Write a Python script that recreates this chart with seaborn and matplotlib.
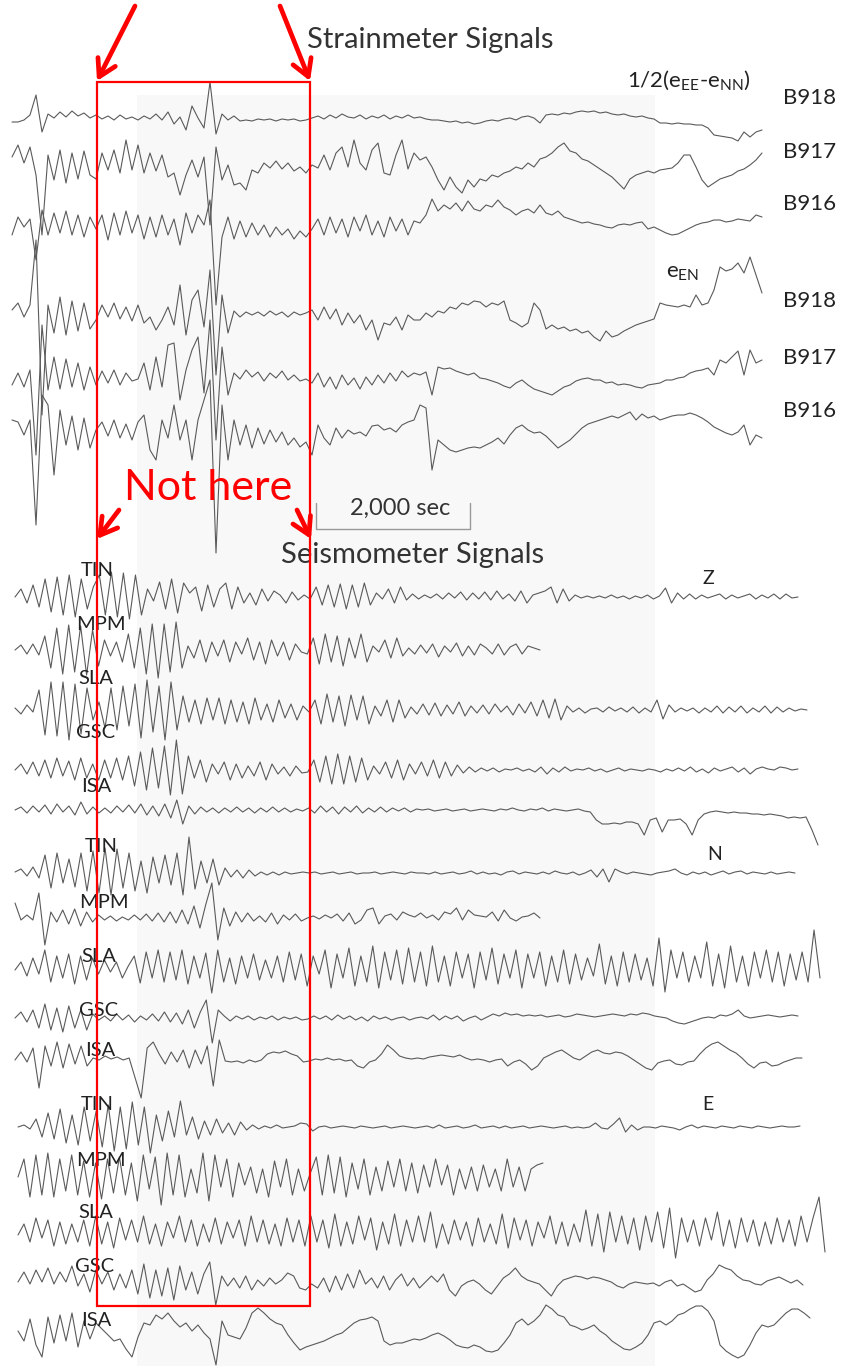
import numpy as np
import matplotlib
matplotlib.use("Agg")
import matplotlib.pyplot as plt
import seaborn as sns
from matplotlib.patches import Rectangle

sns.set_style("white")
plt.rcParams['font.family'] = ['Lato', 'DejaVu Sans']
plt.rcParams['mathtext.fontset'] = 'custom'
plt.rcParams['mathtext.rm'] = 'Lato'
plt.rcParams['mathtext.it'] = 'Lato'

# ---------------- DATA (trace amplitudes, positive = up) ----------------
# Strainmeter 1/2(eEE - eNN)
eenn_B918 = [-2,-2,0,5,25,-12,6,2,8,3,9,4,7,2,5,1,4,0,5,1,3,0,4,1,6,0,8,-4,3,-10,14,2,-8,38,-14,6,0,4,-1,0,-1,1,0,1,-1,1,0,1,-1,0,2,4,1,5,2,6,3,2,5,1,4,2,5,1,4,2,5,2,3,1,0,0,-1,-2,-1,-3,-2,-4,-3,-1,0,-1,1,2,0,3,4,2,-3,5,6,5,7,6,8,9,8,9,7,8,6,5,6,4,3,4,2,1,-3,-3,-4,-3,-4,-4,-5,-5,-8,-15,-16,-17,-18,-21,-12,-17,-12,-10]
eenn_B917 = [8,20,2,18,-10,-70,10,-15,15,-18,12,-14,14,-10,-14,12,-5,15,-8,25,-5,20,-8,12,-6,10,-12,-8,-30,-10,5,-12,8,-60,18,-15,0,-20,-18,-25,-5,-8,2,-3,4,-4,2,-6,-2,-8,0,-3,10,-5,12,18,-2,25,2,-5,15,22,-8,-10,10,25,-4,12,5,8,-2,-15,-25,-12,-22,-28,-15,-22,-14,-16,-10,-12,-8,-6,-2,-4,2,-2,6,8,12,18,22,14,12,6,4,0,-4,-8,-12,-18,-24,-14,-10,-8,-6,-8,-5,-4,-3,2,10,10,-2,-15,-22,-18,-14,-12,-10,-6,-4,0,5,12]
eenn_B916 = [-10,8,-2,6,-35,15,-10,12,-8,14,-10,10,-12,8,-4,10,-15,12,-10,14,-8,10,-14,8,-12,10,-10,6,-20,12,-8,10,0,25,-80,-12,8,-14,4,-12,2,-10,0,-12,-2,-10,-4,-14,-6,-12,-4,6,-10,8,-8,6,-12,8,-6,10,-10,4,-12,8,-6,6,-10,4,2,10,26,14,20,16,22,14,24,16,14,20,18,25,18,15,10,14,16,12,20,12,10,14,8,6,4,2,3,1,0,-2,-3,0,1,0,2,3,-4,-2,-5,-8,-10,-9,-6,-3,0,2,3,5,5,3,4,6,5,4,10,8]
# Strainmeter eEN
een_B918 = [5,12,-2,10,75,-100,10,-18,18,-20,14,-16,12,-14,-5,10,-2,12,-4,8,-6,10,-8,-2,-15,-5,8,-10,30,-20,15,25,-12,45,-60,20,-18,4,-2,3,0,3,-1,4,0,3,-2,3,0,2,5,-5,8,-4,6,-10,2,-8,0,-15,-5,-25,-8,-10,-2,-15,0,-5,-5,2,-2,4,2,8,6,12,10,14,13,8,12,10,14,-5,-8,-12,-8,12,5,-14,-10,-14,-12,-16,-14,-18,-16,-22,-26,-16,-22,-20,-16,-13,-10,-8,-6,-4,12,10,9,8,10,8,20,10,12,25,48,44,46,52,42,58,40,22]
een_B917 = [-10,2,-12,5,-80,50,-15,18,-14,16,-12,12,-15,8,-10,4,-8,5,-10,2,-6,-4,12,-15,18,-12,30,32,-25,5,25,38,-18,55,-65,28,-20,2,-4,5,-2,3,-6,2,-3,4,-5,0,-6,-4,-8,2,-12,-2,-14,0,-10,-3,-14,-2,-10,0,-8,2,-6,4,-2,2,0,3,-20,8,6,7,4,2,0,2,-3,-4,-6,-8,-11,-13,-8,-5,-10,-14,-16,-18,-20,-16,-12,-10,-6,-4,-3,-5,-5,-8,-7,-10,-9,-10,-12,-13,-10,-9,-8,-5,-5,-3,-2,2,4,5,7,0,15,12,18,24,0,25,12,15]
een_B916 = [10,8,-5,10,-95,35,25,-45,20,-15,14,-20,12,-18,0,8,-6,10,-8,6,-10,8,15,-20,-30,10,-8,25,-10,10,-30,10,30,50,-123,25,-30,10,-15,5,-18,2,-14,0,-12,-2,-15,-8,-17,-12,-25,5,-8,-15,2,-8,0,-4,-2,-6,4,5,0,2,-2,5,8,10,25,22,-40,-10,-15,-20,-22,-20,-18,-17,-18,-15,-12,-8,-14,-5,2,5,0,-3,-2,-6,-12,-18,-14,-10,-4,2,6,8,10,12,14,12,15,18,10,16,12,14,10,12,14,15,15,17,15,12,8,3,0,-3,-5,-2,5,-15,-5,-8]

# Seismometer Z
z_TIN = [0,8,-6,12,-10,18,-15,20,-18,22,-20,18,-12,10,22,-18,25,-20,24,-22,22,-18,8,-4,15,-12,18,-16,14,4,10,-14,12,-10,8,14,-12,10,-6,4,-8,8,-4,6,2,-6,5,-3,2,-2,10,-8,12,-10,13,-12,12,-10,14,-8,4,-2,8,-6,10,-3,3,-2,2,-1,3,-2,4,-1,5,-3,4,-2,5,-3,6,-2,3,-4,6,-6,2,4,6,10,-6,8,-4,2,-1,1,-1,1,-1,2,-1,1,-2,1,-1,2,-2,1,9,-6,4,-2,3,-2,2,-1,1,3,-2,2,-1,1,3,-2,2,-1,3,-2,3,-1,0]
z_MPM = [0,5,-4,6,-5,14,-18,22,-24,25,-22,24,-25,20,-16,10,-6,8,-12,16,-18,22,-24,26,-28,26,-22,28,-18,4,-8,10,-12,8,-6,10,-12,8,-4,12,-10,8,-14,10,-6,8,-10,6,-2,-4,12,-14,16,-12,14,-16,12,-8,16,-12,4,-2,10,-8,12,-6,2,-4,5,-3,6,-7,4,-2,7,-6,4,-5,6,2,-4,6,-5,3,6,-4,4,2,0]
z_SLA = [2,-4,5,-2,20,-25,28,-26,28,-30,26,-24,22,-10,8,-18,22,-20,24,-16,26,-28,30,-22,24,-30,28,-20,14,-12,10,-14,12,-10,12,-14,10,-12,8,-14,12,-10,6,-12,10,-8,6,-10,4,-2,10,-14,16,-12,14,-16,15,-10,14,-14,4,-6,10,-12,10,-8,3,-4,6,-5,7,-6,5,-4,8,-6,4,-3,5,-4,6,-2,4,-5,6,-3,8,-6,10,-8,11,-10,4,-2,2,-3,1,2,-2,3,-1,2,-2,3,-3,2,-2,10,-9,5,-2,2,-1,2,-3,2,-2,4,-3,3,-2,4,-3,2,-2,4,-3,3,-2,2,-1,1,0]
z_GSC = [0,6,-4,8,-6,10,-8,12,-6,9,-10,12,-8,6,-10,10,-8,12,-10,14,-16,18,-20,22,-18,24,-25,30,-24,14,-8,10,-12,6,-4,8,-10,6,-8,4,-6,8,-10,6,-4,3,-6,4,-3,-2,10,-12,14,-14,16,-14,14,-12,12,-10,4,-4,8,-8,10,-10,6,-4,8,-6,10,-8,8,-6,5,-3,3,-2,2,-1,2,-2,1,0,2,-1,1,-2,3,-4,2,-2,3,-1,1,0,2,-1,1,-2,0,2,-1,1,0,-1,1,0,-2,1,-1,2,-1,3,-2,1,-3,2,-1,1,3,-2,2,-4,1,3,1,0,3,2,0,1]
z_ISA = [0,3,-3,4,-2,5,-4,6,-2,4,-5,8,-4,3,-3,2,-3,4,-2,5,-3,6,-5,4,-6,6,-8,10,-14,4,-4,3,-2,2,-3,2,-2,3,-2,2,-3,2,-2,3,-2,2,-2,1,-1,2,-3,4,-2,3,-4,3,-2,4,-3,2,-2,3,-2,2,-1,2,-2,1,0,1,-1,0,1,-1,0,1,-1,0,1,0,-1,1,0,2,0,-1,1,0,2,-1,1,0,-1,0,1,-1,-2,-10,-14,-14,-13,-14,-12,-12,-14,-25,-10,-8,-22,-10,-10,-9,-14,-25,-10,-4,-2,-1,-2,-3,-2,-3,-3,-4,-4,-5,-4,-5,-6,-8,-7,-8,-7,-20,-35]

# Seismometer N
n_TIN = [1,4,-3,6,-5,18,-15,20,-10,14,-14,20,-18,22,-20,25,-22,24,-15,20,-18,12,-20,16,-10,18,-12,20,-22,36,-16,12,-10,14,-12,5,-4,3,-5,3,-3,1,-2,1,-2,1,-1,0,1,0,1,-1,0,1,-1,0,1,-1,0,0,1,-1,0,1,0,-1,1,0,0,-1,1,-1,0,1,-1,0,2,-1,1,-1,0,-2,1,2,-1,1,0,-1,1,-1,2,0,-1,1,-2,0,3,-4,4,-9,4,1,-1,1,0,-1,-2,0,1,2,4,0,-2,1,-1,1,-2,0,2,-1,1,2,-1,1,0,-1,1,-1,0,1,0]
n_MPM = [15,-2,3,-2,25,-27,6,-4,8,-6,9,-8,6,-4,3,-2,2,-3,1,-2,3,-2,4,-3,5,-4,6,-5,8,-6,12,-10,14,35,-22,10,-8,6,-4,5,-3,2,-4,5,-6,3,-2,4,-3,0,2,-1,3,0,4,-3,5,-6,-2,8,10,-6,2,4,-2,6,3,1,5,0,3,-2,6,4,10,-2,8,3,2,1,6,-3,8,0,-3,1,2,5,0]
n_SLA = [-2,6,-8,10,-6,18,-14,12,-10,14,-16,12,-12,10,-6,8,-4,6,-10,2,12,-15,16,-10,18,-14,16,-12,18,-16,12,-10,15,-25,18,-14,10,-16,12,-10,14,-12,8,-10,12,-14,16,-12,14,-18,12,-6,18,-20,14,-10,20,-18,12,-14,22,-20,16,-12,18,-16,20,-14,16,-18,22,-14,12,-18,16,-10,14,-20,16,-12,20,-16,14,-10,18,-20,14,-10,16,-18,12,-14,18,-16,14,-12,10,-8,24,-16,12,-18,16,-14,14,-12,10,-18,30,-24,18,-10,16,-14,12,-10,26,-18,14,-20,22,-14,12,-18,16,-10,18,-14,16,-18,14,-12,16,-14,38,-10]
n_GSC = [0,6,-4,8,-10,14,-12,10,-14,12,-10,8,-12,4,-2,2,-3,4,-2,3,-4,2,-2,4,-3,6,-4,5,-6,8,-10,6,18,-25,8,2,-3,2,-1,2,-2,1,-1,2,-2,1,-1,1,-2,-1,2,-1,2,-2,3,-1,2,-2,1,-3,2,-1,1,-2,0,1,-2,0,1,-1,3,-2,2,-1,2,-3,0,2,-2,1,4,2,5,3,4,2,3,2,3,1,2,3,1,2,4,3,2,1,2,3,4,3,2,4,3,5,4,2,1,0,-3,-5,-6,-4,-2,0,1,0,3,2,4,8,2,0,1,2,3,2,1,2,3,2]
n_ISA = [-2,6,-4,10,-30,12,-8,16,-10,14,-6,12,-8,0,-2,2,-1,1,-2,0,-20,-40,10,16,4,-6,6,-4,8,-10,8,-6,12,-28,18,-3,-4,-3,-5,-2,-4,-2,4,6,5,7,4,2,-4,-3,-1,-2,0,-2,-1,-3,-2,-8,-10,-4,-2,4,13,8,2,0,-1,0,-1,1,2,3,2,1,3,0,-2,-1,-2,-4,-2,-1,-8,-4,-2,-6,-12,-8,0,3,6,8,4,0,-2,2,6,8,5,4,6,5,2,-2,-6,-10,-12,-5,-3,-2,-6,-7,-4,-3,4,10,14,16,12,8,5,0,-6,-10,-5,-4,-8,-7,-4,-2,0,0]

# Seismometer E
e_TIN = [0,2,-2,8,-10,14,-12,18,-16,12,-18,20,-14,16,-20,22,-24,20,-22,25,-18,20,-26,12,-14,16,-10,26,-8,10,-12,6,-8,8,-6,4,-8,5,-3,2,-2,1,-1,2,-1,0,1,4,3,-4,0,1,-1,0,1,0,-1,1,0,-1,0,1,-1,0,1,0,-1,0,1,-1,2,-1,0,1,-1,0,2,-1,0,1,-1,1,-1,0,1,-1,0,1,0,-1,0,1,-1,0,-1,0,4,-1,-2,3,9,-5,2,-3,0,0,-1,1,0,-1,-3,0,2,-1,1,0,-1,1,0,-1,1,0,-1,1,0,-1,0,1,0,0,1]
e_MPM = [0,18,-20,22,-18,24,-20,18,-14,22,-18,16,-20,14,-22,18,-16,20,-18,14,-24,22,-12,20,-28,24,-18,22,-20,8,-16,24,-24,22,-10,18,-20,14,-8,10,-16,8,-20,16,-10,18,-18,8,-14,4,20,-18,22,-16,20,-20,14,-12,18,-18,10,-14,16,-10,18,-14,14,-16,12,-10,18,-8,12,-18,8,-12,10,-14,12,-10,8,-14,18,-10,10,-14,8,12,14]
e_SLA = [-3,8,-10,14,-6,12,-14,10,-12,8,-10,12,-14,16,-12,10,-16,14,-8,12,-10,16,-12,8,-14,10,-6,16,-10,12,-14,8,-10,14,-12,10,-6,12,-14,16,-10,12,-12,8,-14,14,-10,12,-14,16,-10,12,-16,18,-14,10,-12,16,-8,14,-18,10,-12,18,-14,12,-10,16,-10,20,-16,8,-12,12,-8,10,-14,14,-10,8,-12,18,-16,14,-8,12,-14,10,-6,16,-12,10,-14,8,-10,22,-14,18,-20,20,-10,16,-12,14,-18,16,-10,20,-16,24,-26,14,-10,12,-14,14,-8,20,-14,12,-16,14,-10,12,-14,10,-12,14,-10,12,-14,16,-10,14,35,-20]
e_GSC = [-2,8,-4,10,-2,12,-4,8,-2,14,-6,6,-12,10,-4,8,-10,6,-8,10,-14,16,-18,10,-16,12,-20,14,-10,8,-14,6,18,-25,4,-6,2,-8,4,-10,0,-6,2,-4,0,7,4,-8,-10,-4,-8,2,-12,4,-10,6,-8,10,-4,2,-8,4,-10,0,6,-6,2,-8,-2,4,-2,6,-10,-16,-6,-2,0,-4,-10,-14,-6,2,6,12,4,0,-2,-4,-10,-16,-6,0,2,4,3,1,3,2,0,-2,-6,-8,-4,-2,-3,-4,-3,-6,-2,0,-6,-4,-8,-12,-10,0,6,15,12,10,4,0,-1,-4,-5,-1,1,3,0,-3,0,-5]
e_ISA = [2,-8,14,-12,-24,16,-10,18,-8,20,-14,12,-6,10,4,-2,-8,-6,-16,-24,-4,10,8,18,14,20,12,6,10,2,8,0,-6,-32,12,-2,-4,-6,5,20,25,20,14,10,8,-2,-10,-17,-14,-12,-10,-8,-5,-2,0,5,10,13,14,16,12,-8,-12,-10,-10,-8,-6,-7,-5,-2,0,-3,-7,-12,-14,-15,-12,-14,-18,-19,-17,-10,-2,10,14,8,12,18,28,24,18,16,8,6,3,5,8,2,-2,-8,-12,-16,-17,-14,-10,-2,10,12,8,12,18,20,24,27,27,22,12,-12,-18,-22,-25,-22,-12,0,8,6,8,14,20,24,24,20,15]

# Labels
strain_stations = ["B918", "B917", "B916"]
seis_stations = ["TIN", "MPM", "SLA", "GSC", "ISA"]
components = ["Z", "N", "E"]

# ---------------- FIGURE ----------------
fig = plt.figure(figsize=(8.42, 13.66), dpi=100)
ax = fig.add_axes([0, 0, 1, 1])
ax.set_xlim(0, 842)
ax.set_ylim(1366, 0)
ax.axis('off')

# light grey background band
ax.add_patch(Rectangle((137, 95), 518, 1271, facecolor='#f8f8f8', edgecolor='none', zorder=0))

trace_color = '#5a5a5a'

def draw(vals, x0, x1, base, color=trace_color, lw=0.8):
    v = np.asarray(vals, dtype=float)
    xs = np.linspace(x0, x1, len(v))
    sns.lineplot(x=xs, y=base - v, ax=ax, color=color, linewidth=lw,
                 estimator=None, sort=False, legend=False, zorder=2)

# strainmeter traces
draw(eenn_B918, 12, 762, 120)
draw(eenn_B917, 12, 762, 165)
draw(eenn_B916, 12, 762, 225)
draw(een_B918, 12, 762, 315)
draw(een_B917, 12, 762, 375)
draw(een_B916, 12, 762, 430)

# seismometer traces
draw(z_TIN, 15, 798, 597)
draw(z_MPM, 15, 540, 650)
draw(z_SLA, 15, 807, 710)
draw(z_GSC, 15, 798, 770)
draw(z_ISA, 15, 818, 810)

draw(n_TIN, 15, 795, 873)
draw(n_MPM, 15, 540, 918)
draw(n_SLA, 15, 820, 968)
draw(n_GSC, 15, 798, 1018)
draw(n_ISA, 15, 802, 1058)

draw(e_TIN, 18, 800, 1127)
draw(e_MPM, 18, 543, 1177)
draw(e_SLA, 18, 825, 1232)
draw(e_GSC, 18, 803, 1280)
draw(e_ISA, 18, 810, 1333)

# titles
ax.text(430, 40, "Strainmeter Signals", fontsize=21, color='#333333', ha='center', va='center', zorder=5)
ax.text(413, 555, "Seismometer Signals", fontsize=21, color='#333333', ha='center', va='center', zorder=5)

# strain labels
for name, y in zip(strain_stations, [98, 152, 204]):
    ax.text(810, y, name, fontsize=16, color='#222222', ha='center', va='center', zorder=5)
for name, y in zip(strain_stations, [301, 358, 411]):
    ax.text(810, y, name, fontsize=16, color='#222222', ha='center', va='center', zorder=5)
ax.text(689, 80, r"1/2(e$_{\mathrm{EE}}$-e$_{\mathrm{NN}}$)", fontsize=16, color='#222222',
        ha='center', va='center', zorder=5)
ax.text(683, 273, r"e$_{\mathrm{EN}}$", fontsize=16, color='#222222', ha='center', va='center', zorder=5)

# seismometer labels
label_y = {
    "Z": [571, 625, 678, 733, 786],
    "N": [847, 902, 956, 1010, 1050],
    "E": [1105, 1160, 1213, 1267, 1320],
}
label_x = {
    "Z": [97, 101, 96, 96, 96],
    "N": [101, 104, 99, 99, 100],
    "E": [97, 101, 96, 95, 96],
}
comp_pos = {"Z": (708, 579), "N": (715, 855), "E": (708, 1105)}
for comp in components:
    for name, x, y in zip(seis_stations, label_x[comp], label_y[comp]):
        ax.text(x, y, name, fontsize=14.5, color='#222222', ha='center', va='center', zorder=5)
    cx, cy = comp_pos[comp]
    ax.text(cx, cy, comp, fontsize=14, color='#222222', ha='center', va='center', zorder=5)

# scale bar
ax.plot([316, 316, 470, 470], [503, 529, 529, 503], color='#999999', lw=1, zorder=4)
ax.text(400, 508, "2,000 sec", fontsize=17, color='#333333', ha='center', va='center', zorder=5)

# red box
ax.add_patch(Rectangle((97, 82), 213, 1224, facecolor='none', edgecolor='#ff0000', lw=1.6, zorder=6))

# red arrows
arrow_kw = dict(arrowstyle='->,head_length=1.2,head_width=0.7', color='#ff0000', lw=3.4,
                shrinkA=0, shrinkB=0)
ax.annotate('', xy=(97, 81), xytext=(135, 6), arrowprops=arrow_kw, zorder=7)
ax.annotate('', xy=(310, 81), xytext=(280, 6), arrowprops=arrow_kw, zorder=7)
ax.annotate('', xy=(97, 539), xytext=(119, 510), arrowprops=arrow_kw, zorder=7)
ax.annotate('', xy=(311, 539), xytext=(297, 510), arrowprops=arrow_kw, zorder=7)

ax.text(208, 488, "Not here", fontsize=31, color='#ff0000', ha='center', va='center', zorder=7)

fig.savefig("out.png", dpi=100)
